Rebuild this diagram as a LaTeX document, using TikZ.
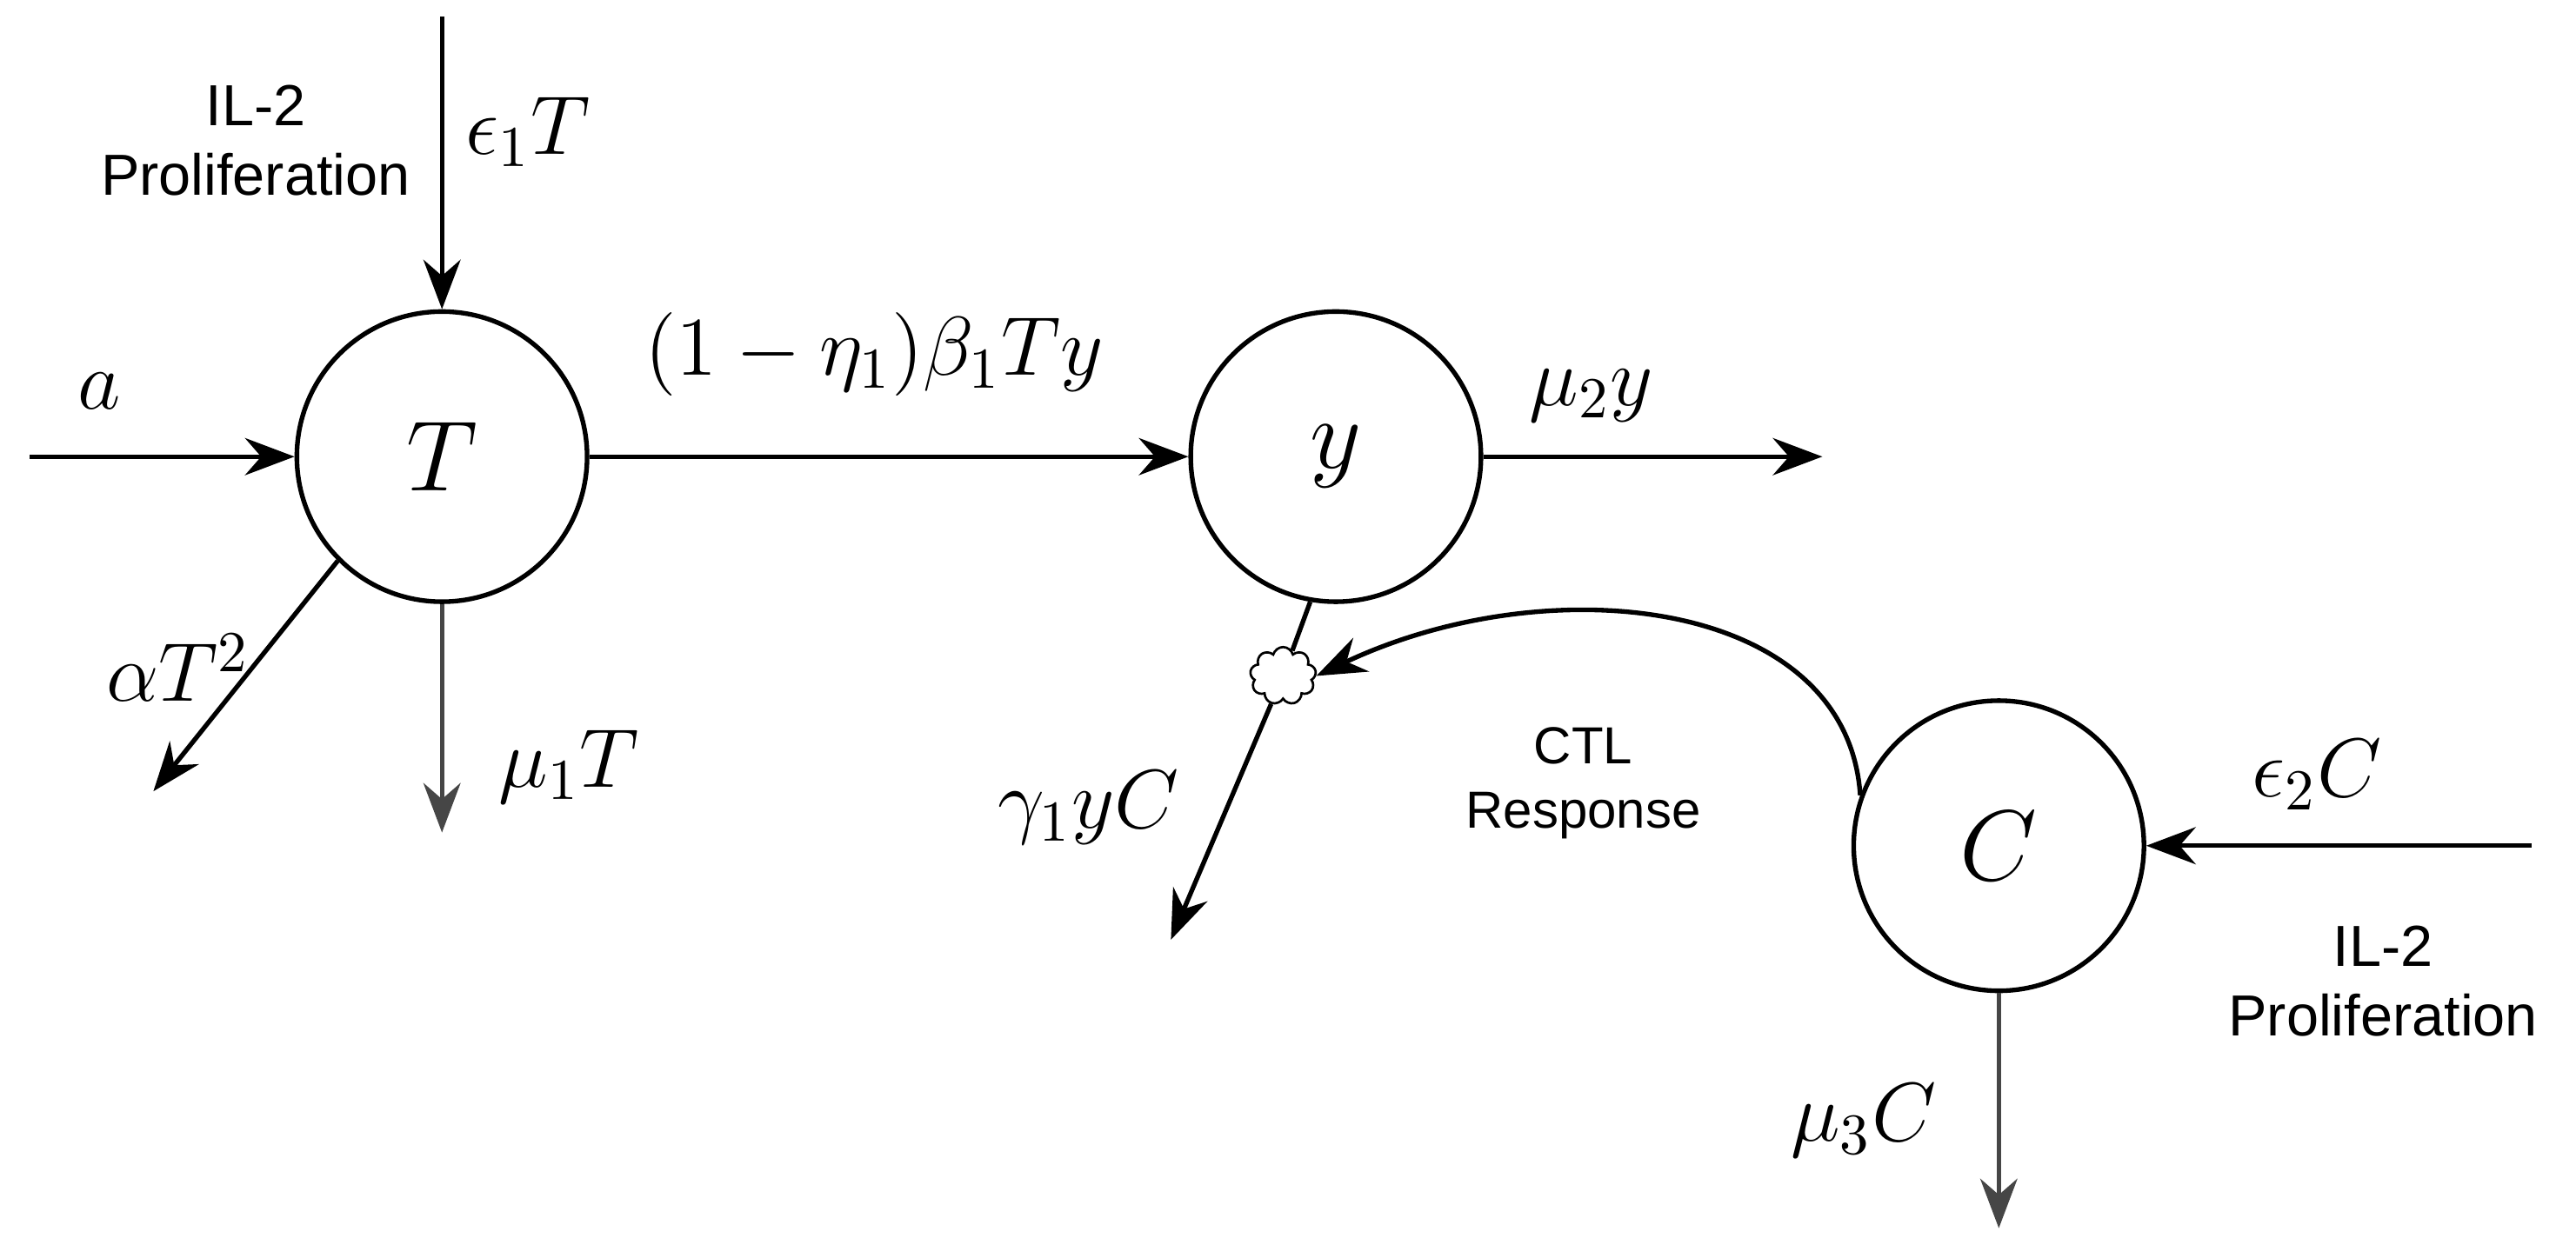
\documentclass[tikz,border=0pt]{standalone}
\usepackage{fontspec}
\setsansfont{Liberation Sans}
\usetikzlibrary{arrows.meta, positioning, shapes.symbols}
\definecolor{flowgray}{RGB}{70,70,70}

\begin{document}
\begin{tikzpicture}[
        comp/.style={circle, draw, thick, minimum size=1.76cm, font=\LARGE},
        flow/.style={-{Stealth[length=3mm]}, thick},
        lbl/.style={font=\Large},
        txt/.style={align=center, font=\sffamily\normalsize}
    ]
        \useasboundingbox (0,0) rectangle (15.62,7.63);
        % compartments
        \node[comp] (T) at (2.68,4.86) {$T$};
        \node[comp] (y) at (8.10,4.86) {$y$};
        \node[comp] (C) at (12.12,2.50) {$C$};
        \node[cloud, draw, cloud puffs=9, minimum width=0.4cm, minimum height=0.35cm, inner sep=0pt] (kill) at (7.78,3.53) {};

        % free ends
        \coordinate (ain) at (0.18,4.86);
        \coordinate (eps1) at (2.68,7.53);
        \coordinate (yout) at (11.05,4.86);
        \coordinate (Tdown) at (2.68,2.58);
        \coordinate (Tdeath) at (0.93,2.83);
        \coordinate (ydeath) at (7.10,1.93);
        \coordinate (eps2) at (15.35,2.50);
        \coordinate (Cdown) at (12.12,0.18);

        \draw[flow] (ain) -- (T);
        \draw[flow] (eps1) -- (T);
        \draw[flow] (T) -- (y);
        \draw[flow] (y) -- (yout);
        \draw[flow, flowgray] (T) -- (Tdown);
        \draw[flow] (T.225) -- (Tdeath);
        \draw[thick] (y.260) -- (kill);
        \draw[flow] (kill) -- (ydeath);
        \draw[flow] (C.160) .. controls (11.2,4.0) and (9.4,4.2) .. (kill.east);
        \draw[flow] (eps2) -- (C);
        \draw[flow, flowgray] (C) -- (Cdown);

        % labels
        \node[lbl] (la) at (0.60,5.26) {$a$};
        \node[lbl] (leps1) at (3.20,6.83) {$\epsilon_1 T$};
        \node[txt] (il1) at (1.55,6.78) {IL-2\\Proliferation};
        \node[lbl] (linf) at (5.30,5.48) {$(1-\eta_1)\beta_1 T y$};
        \node[lbl] (lmu2) at (9.65,5.23) {$\mu_2 y$};
        \node[lbl] (lmu1) at (3.45,2.98) {$\mu_1 T$};
        \node[lbl] (lalpha) at (1.08,3.58) {$\alpha T^2$};
        \node[lbl] (lgamma) at (6.60,2.73) {$\gamma_1 y C$};
        \node[txt, font=\sffamily\small] (ctl) at (9.60,2.88) {CTL\\Response};
        \node[lbl] (leps2) at (14.05,2.93) {$\epsilon_2 C$};
        \node[txt] (il2) at (14.45,1.68) {IL-2\\Proliferation};
        \node[lbl] (lmu3) at (11.30,0.83) {$\mu_3 C$};
    \end{tikzpicture}
\end{document}
